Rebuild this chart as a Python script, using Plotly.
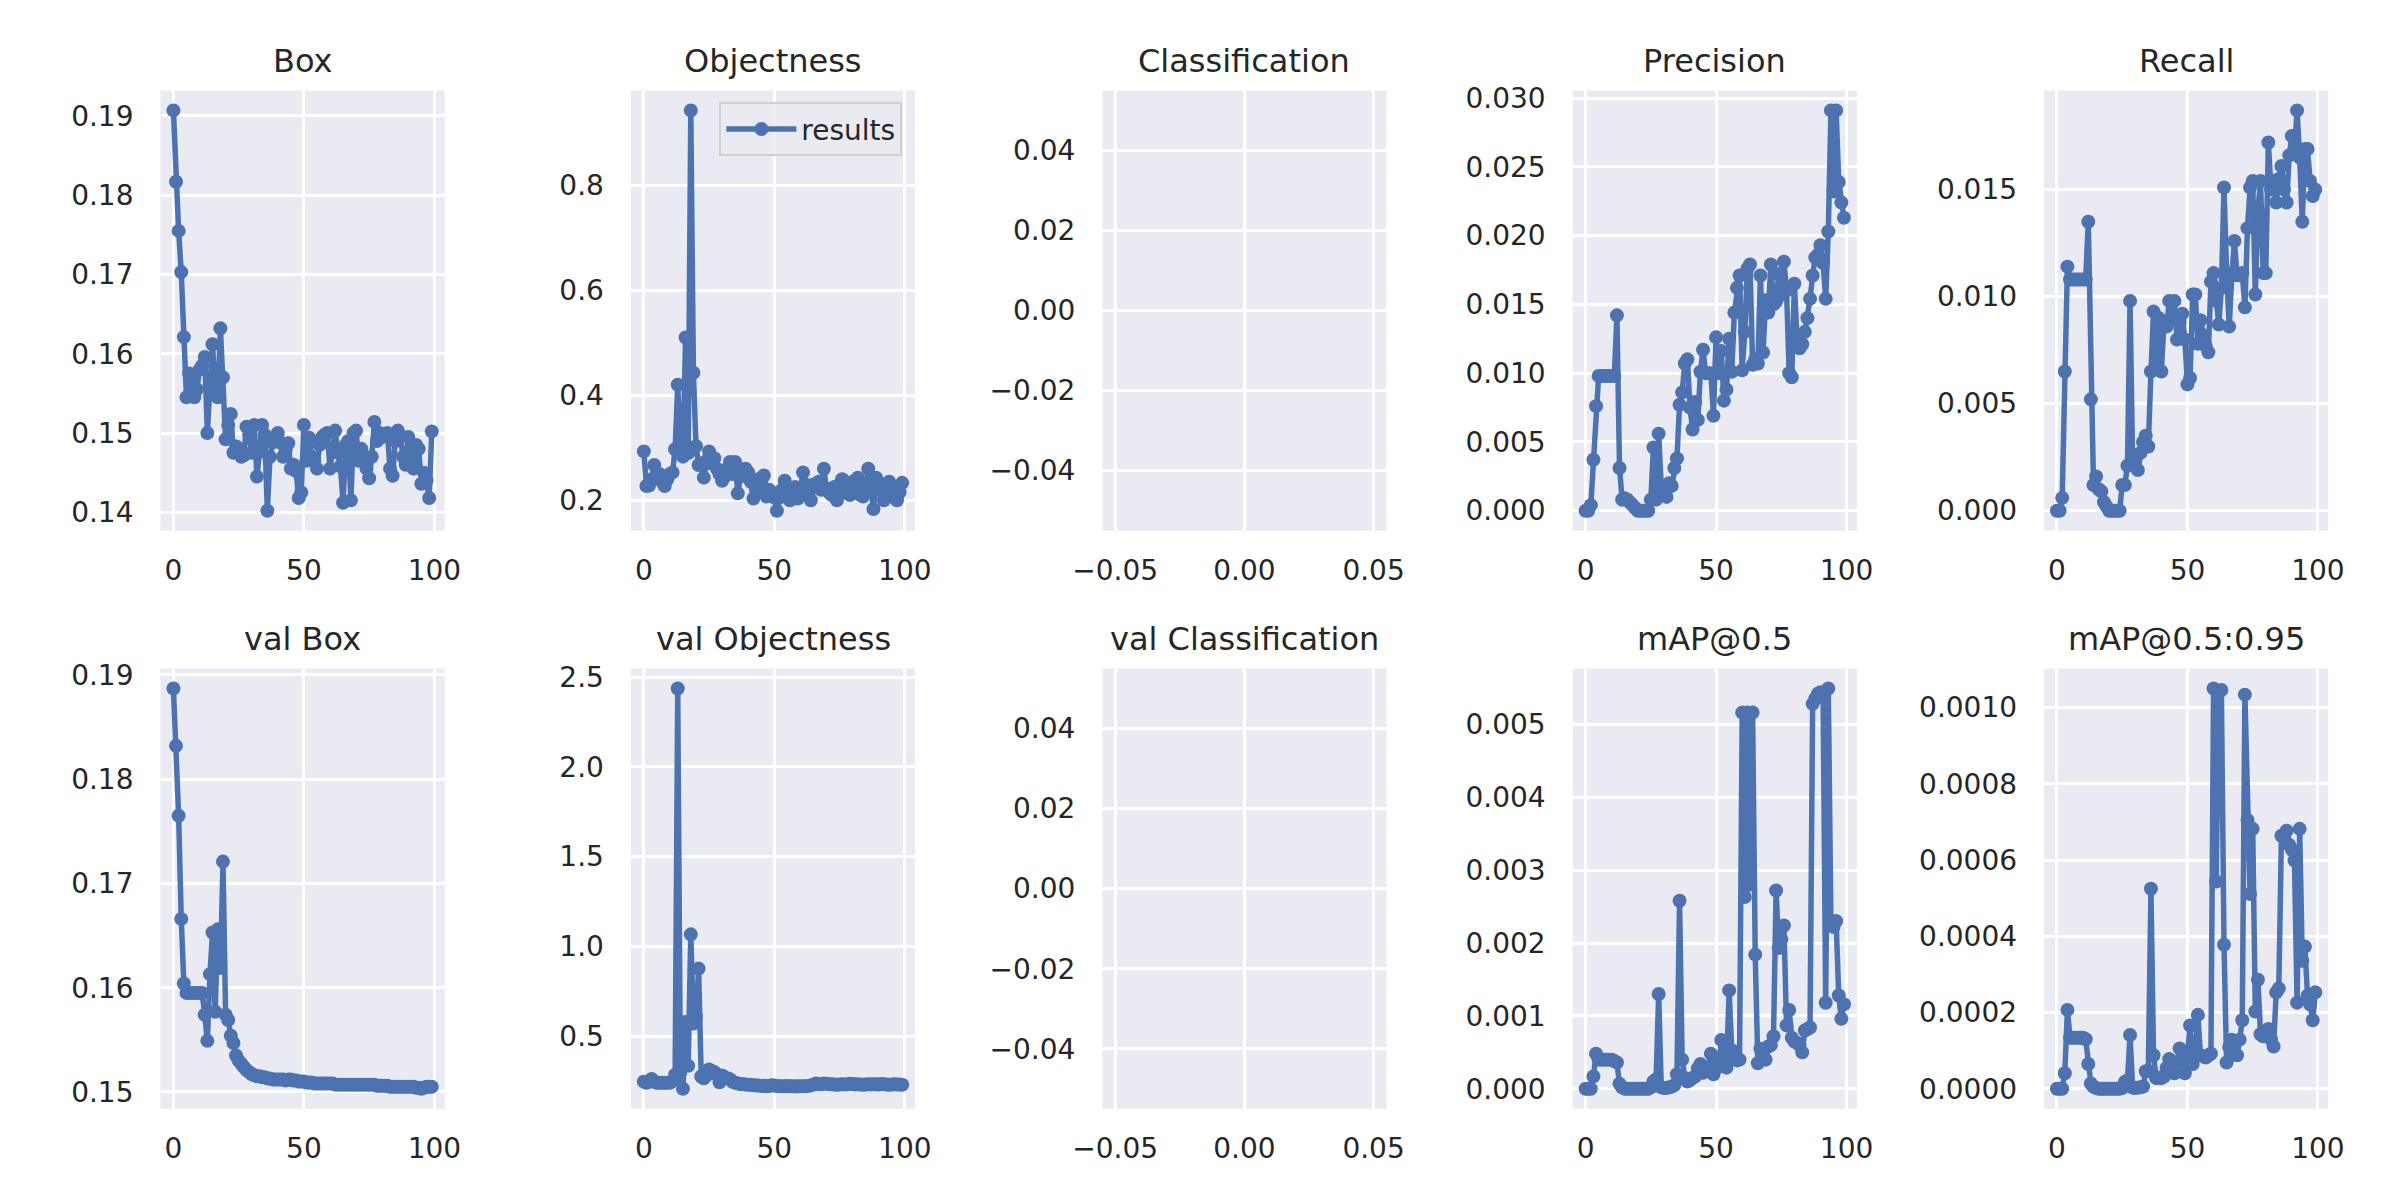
import plotly.graph_objects as go

# ---------------- data ----------------
epochs = list(range(100))

box = [0.1907, 0.1817, 0.1755, 0.1703, 0.1621, 0.1545, 0.1575, 0.1570, 0.1545, 0.1555,
       0.1580, 0.1585, 0.1596, 0.1500, 0.1560, 0.1612, 0.1550, 0.1545, 0.1632, 0.1570,
       0.1492, 0.1510, 0.1524, 0.1475, 0.1483, 0.1480, 0.1470, 0.1472, 0.1508, 0.1498,
       0.1475, 0.1510, 0.1445, 0.1476, 0.1510, 0.1498, 0.1402, 0.1470, 0.1488, 0.1490,
       0.1500, 0.1488, 0.1470, 0.1478, 0.1487, 0.1455, 0.1460, 0.1452, 0.1418, 0.1425,
       0.1510, 0.1465, 0.1494, 0.1470, 0.1465, 0.1455, 0.1485, 0.1495, 0.1498, 0.1500,
       0.1455, 0.1480, 0.1503, 0.1475, 0.1458, 0.1412, 0.1485, 0.1490, 0.1415, 0.1500,
       0.1503, 0.1465, 0.1480, 0.1470, 0.1455, 0.1443, 0.1470, 0.1514, 0.1490, 0.1500,
       0.1495, 0.1497, 0.1500, 0.1455, 0.1446, 0.1490, 0.1503, 0.1495, 0.1470, 0.1460,
       0.1495, 0.1465, 0.1455, 0.1485, 0.1480, 0.1436, 0.1450, 0.1440, 0.1418, 0.1502]

objectness = [0.293, 0.227, 0.228, 0.240, 0.267, 0.245, 0.250, 0.235, 0.227, 0.240,
              0.250, 0.253, 0.297, 0.420, 0.300, 0.283, 0.510, 0.290, 0.943, 0.443,
              0.303, 0.267, 0.270, 0.243, 0.275, 0.293, 0.270, 0.280, 0.260, 0.250,
              0.237, 0.245, 0.260, 0.273, 0.250, 0.273, 0.213, 0.245, 0.258, 0.260,
              0.253, 0.235, 0.203, 0.220, 0.240, 0.235, 0.247, 0.207, 0.220, 0.215,
              0.205, 0.180, 0.205, 0.220, 0.237, 0.215, 0.200, 0.220, 0.225, 0.203,
              0.220, 0.253, 0.230, 0.210, 0.200, 0.230, 0.225, 0.235, 0.220, 0.260,
              0.222, 0.215, 0.210, 0.225, 0.200, 0.230, 0.240, 0.215, 0.225, 0.210,
              0.235, 0.220, 0.243, 0.210, 0.207, 0.225, 0.260, 0.220, 0.183, 0.243,
              0.220, 0.230, 0.200, 0.215, 0.235, 0.220, 0.205, 0.200, 0.215, 0.233]

classification = []

precision = [0.0000, 0.0000, 0.0004, 0.0037, 0.0076, 0.0098, 0.0098, 0.0098, 0.0098, 0.0098,
             0.0098, 0.0098, 0.0142, 0.0031, 0.0008, 0.0009, 0.0008, 0.0006, 0.0004, 0.0002,
             0.0000, 0.0000, 0.0000, 0.0000, 0.0000, 0.0008, 0.0046, 0.0008, 0.0056, 0.0017,
             0.0015, 0.0010, 0.0020, 0.0018, 0.0031, 0.0038, 0.0077, 0.0086, 0.0107, 0.0110,
             0.0075, 0.0059, 0.0079, 0.0066, 0.0101, 0.0117, 0.0100, 0.0100, 0.0100, 0.0069,
             0.0126, 0.0100, 0.0116, 0.0080, 0.0088, 0.0125, 0.0101, 0.0144, 0.0162, 0.0171,
             0.0102, 0.0130, 0.0176, 0.0179, 0.0106, 0.0110, 0.0107, 0.0171, 0.0115, 0.0153,
             0.0144, 0.0179, 0.0150, 0.0152, 0.0172, 0.0157, 0.0181, 0.0160, 0.0100, 0.0097,
             0.0165, 0.0125, 0.0118, 0.0121, 0.0130, 0.0140, 0.0154, 0.0171, 0.0184, 0.0186,
             0.0193, 0.0180, 0.0154, 0.0203, 0.0291, 0.0232, 0.0291, 0.0239, 0.0224, 0.0213]

recall = [0.0000, 0.0000, 0.0006, 0.0065, 0.0114, 0.0108, 0.0108, 0.0108, 0.0108, 0.0108,
          0.0108, 0.0108, 0.0135, 0.0052, 0.0012, 0.0016, 0.0010, 0.0009, 0.0004, 0.0002,
          0.0000, 0.0000, 0.0000, 0.0000, 0.0000, 0.0012, 0.0012, 0.0021, 0.0098, 0.0022,
          0.0026, 0.0019, 0.0027, 0.0032, 0.0035, 0.0030, 0.0065, 0.0093, 0.0070, 0.0090,
          0.0065, 0.0088, 0.0086, 0.0098, 0.0090, 0.0098, 0.0080, 0.0088, 0.0092, 0.0080,
          0.0059, 0.0062, 0.0101, 0.0101, 0.0078, 0.0089, 0.0082, 0.0077, 0.0074, 0.0107,
          0.0111, 0.0098, 0.0087, 0.0104, 0.0151, 0.0111, 0.0086, 0.0110, 0.0126, 0.0110,
          0.0110, 0.0111, 0.0095, 0.0132, 0.0151, 0.0154, 0.0101, 0.0140, 0.0154, 0.0111,
          0.0111, 0.0172, 0.0150, 0.0154, 0.0144, 0.0155, 0.0161, 0.0150, 0.0144, 0.0166,
          0.0175, 0.0168, 0.0187, 0.0165, 0.0135, 0.0169, 0.0169, 0.0154, 0.0147, 0.0150]

val_box = [0.1887, 0.1832, 0.1765, 0.1666, 0.1604, 0.1595, 0.1595, 0.1595, 0.1595, 0.1595,
           0.1595, 0.1595, 0.1574, 0.1549, 0.1613, 0.1653, 0.1577, 0.1656, 0.1619, 0.1721,
           0.1574, 0.1569, 0.1554, 0.1547, 0.1535, 0.1530, 0.1527, 0.1524, 0.1521, 0.1519,
           0.1517, 0.1516, 0.1515, 0.1515, 0.1514, 0.1514, 0.1513, 0.1513, 0.1512, 0.1512,
           0.1512, 0.1512, 0.1512, 0.1511, 0.1512, 0.1512, 0.1511, 0.1511, 0.1510, 0.1510,
           0.1510, 0.1509, 0.1509, 0.1509, 0.1508, 0.1508, 0.1508, 0.1508, 0.1508, 0.1508,
           0.1508, 0.1508, 0.1507, 0.1507, 0.1507, 0.1507, 0.1507, 0.1507, 0.1507, 0.1507,
           0.1507, 0.1507, 0.1507, 0.1507, 0.1507, 0.1507, 0.1507, 0.1507, 0.1506, 0.1506,
           0.1506, 0.1506, 0.1506, 0.1505, 0.1505, 0.1505, 0.1505, 0.1505, 0.1505, 0.1505,
           0.1505, 0.1505, 0.1505, 0.1504, 0.1504, 0.1503, 0.1504, 0.1505, 0.1505, 0.1505]

val_objectness = [0.246, 0.240, 0.245, 0.261, 0.245, 0.240, 0.240, 0.240, 0.240, 0.240,
                  0.240, 0.250, 0.285, 2.437, 0.300, 0.206, 0.578, 0.334, 1.067, 0.570,
                  0.610, 0.876, 0.275, 0.265, 0.280, 0.314, 0.305, 0.300, 0.285, 0.242,
                  0.280, 0.270, 0.265, 0.260, 0.245, 0.240, 0.235, 0.232, 0.233, 0.230,
                  0.228, 0.228, 0.226, 0.225, 0.224, 0.222, 0.223, 0.221, 0.222, 0.226,
                  0.224, 0.222, 0.220, 0.221, 0.220, 0.222, 0.221, 0.220, 0.219, 0.220,
                  0.220, 0.221, 0.220, 0.222, 0.225, 0.230, 0.235, 0.233, 0.232, 0.236,
                  0.234, 0.232, 0.231, 0.230, 0.229, 0.230, 0.231, 0.230, 0.232, 0.234,
                  0.233, 0.230, 0.231, 0.230, 0.229, 0.230, 0.231, 0.230, 0.232, 0.231,
                  0.230, 0.233, 0.232, 0.230, 0.229, 0.230, 0.231, 0.230, 0.230, 0.229]

val_classification = []

map50 = [0.0, 0.0, 0.0, 0.00017, 0.00048, 0.00040, 0.00040, 0.00040, 0.00040, 0.00040,
         0.00040, 0.00038, 0.00036, 0.00007, 0.00002, 0.0, 0.0, 0.0, 0.0, 0.0,
         0.0, 0.0, 0.0, 0.0, 0.0, 0.00002, 0.00010, 0.00013, 0.00130, 0.00002,
         0.00001, 0.00001, 0.00002, 0.00003, 0.00005, 0.00020, 0.00258, 0.00040, 0.00015, 0.00010,
         0.00012, 0.00015, 0.00017, 0.00028, 0.00034, 0.00022, 0.00025, 0.00030, 0.00048, 0.00020,
         0.00035, 0.00030, 0.00067, 0.00040, 0.00029, 0.00135, 0.00053, 0.00045, 0.00039, 0.00040,
         0.00516, 0.00263, 0.00516, 0.00280, 0.00516, 0.00184, 0.00035, 0.00055, 0.00045, 0.00040,
         0.00058, 0.00060, 0.00072, 0.00272, 0.00193, 0.00205, 0.00224, 0.00087, 0.00108, 0.00070,
         0.00065, 0.00063, 0.00060, 0.00050, 0.00080, 0.00082, 0.00084, 0.00528, 0.00535, 0.00542,
         0.00544, 0.00540, 0.00118, 0.00549, 0.00230, 0.00222, 0.00230, 0.00128, 0.00096, 0.00116]

map5095 = [0.0, 0.0, 0.0, 0.000041, 0.000207, 0.000134, 0.000134, 0.000134, 0.000134, 0.000134,
           0.000134, 0.000130, 0.000065, 0.000014, 0.000005, 0.000002, 0.0, 0.0, 0.0, 0.0,
           0.0, 0.0, 0.0, 0.0, 0.0, 0.000002, 0.000018, 0.000022, 0.000141, 0.000003,
           0.000002, 0.000003, 0.000004, 0.000006, 0.000046, 0.000046, 0.000525, 0.000088, 0.000028, 0.000030,
           0.000028, 0.000032, 0.000055, 0.000078, 0.000060, 0.000041, 0.000070, 0.000106, 0.000080, 0.000041,
           0.000090, 0.000166, 0.000065, 0.000100, 0.000194, 0.000088, 0.000085, 0.000082, 0.000088, 0.000092,
           0.001050, 0.000544, 0.001040, 0.001046, 0.000378, 0.000069, 0.000110, 0.000129, 0.000120, 0.000088,
           0.000129, 0.000180, 0.001034, 0.000705, 0.000511, 0.000682, 0.000203, 0.000286, 0.000143, 0.000138,
           0.000145, 0.000157, 0.000130, 0.000111, 0.000253, 0.000263, 0.000664, 0.000660, 0.000677, 0.000640,
           0.000627, 0.000599, 0.000226, 0.000682, 0.000336, 0.000373, 0.000244, 0.000221, 0.000180, 0.000253]

titles = ["Box", "Objectness", "Classification", "Precision", "Recall",
          "val Box", "val Objectness", "val Classification", "mAP@0.5", "mAP@0.5:0.95"]
series = [box, objectness, classification, precision, recall,
          val_box, val_objectness, val_classification, map50, map5095]

x_ticks = [0, 50, 100]
empty_ticks = [-0.05, 0.0, 0.05]
empty_tick_text = ["\u22120.05", "0.00", "0.05"]
empty_yticks = [-0.04, -0.02, 0.0, 0.02, 0.04]
empty_ytick_text = ["\u22120.04", "\u22120.02", "0.00", "0.02", "0.04"]

# y-tick step and format per panel
y_dtick = [0.01, 0.2, None, 0.005, 0.005, 0.01, 0.5, None, 0.001, 0.0002]
y_fmt = [".2f", ".1f", None, ".3f", ".3f", ".2f", ".1f", None, ".3f", ".4f"]

# ---------------- style / layout ----------------
W, H = 2400, 1200
OFF = 8  # default page body margin of the html page
col_left = [133, 613, 1094, 1574, 2055]
panel_w = 290
row_top = [81, 664]
panel_h = 444
BLUE = "#4C72B0"
BG = "#EAEAF2"
TXT = "#262626"
FONT = "DejaVu Sans"

fig = go.Figure()
layout = dict(
    width=W, height=H,
    margin=dict(l=0, r=0, t=0, b=0),
    paper_bgcolor="white",
    plot_bgcolor=BG,
    font=dict(family=FONT, size=28, color=TXT),
    showlegend=True,
    legend=dict(
        x=(890 - OFF) / W, xanchor="right", y=1 - (93 - OFF) / H, yanchor="top",
        bgcolor="rgba(234,234,242,0.8)", bordercolor="#D0D0D0", borderwidth=2,
        font=dict(family=FONT, size=28, color=TXT),
        itemwidth=70, entrywidth=125, entrywidthmode="pixels",
    ),
    annotations=[],
)

def pad_range(vals):
    mn, mx = min(vals), max(vals)
    span = mx - mn
    return [mn - 0.05 * span, mx + 0.05 * span]

for k in range(10):
    r, c = divmod(k, 5)
    idx = k + 1
    xa = "x" if idx == 1 else f"x{idx}"
    ya = "y" if idx == 1 else f"y{idx}"
    left = col_left[c] - OFF
    top = row_top[r] - OFF
    x0 = left / W
    x1 = (left + panel_w) / W
    y1 = 1 - top / H
    y0 = 1 - (top + panel_h) / H
    vals = series[k]
    empty = len(vals) == 0

    fig.add_trace(go.Scatter(
        x=epochs[:len(vals)], y=vals, xaxis=xa, yaxis=ya,
        mode="lines+markers", name="results",
        line=dict(color=BLUE, width=5.5),
        marker=dict(color=BLUE, size=14),
        showlegend=(k == 1),
    ))

    common = dict(
        showgrid=True, gridcolor="white", gridwidth=3,
        zeroline=False, showline=False, ticks="",
        tickfont=dict(family=FONT, size=28, color=TXT),
    )
    if empty:
        xaxis = dict(domain=[x0, x1], anchor=ya, range=[-0.055, 0.055],
                     tickmode="array", tickvals=empty_ticks, ticktext=empty_tick_text,
                     ticklabelstandoff=20, **common)
        yaxis = dict(domain=[y0, y1], anchor=xa, range=[-0.055, 0.055],
                     tickmode="array", tickvals=empty_yticks, ticktext=empty_ytick_text,
                     ticklabelstandoff=26, **common)
    else:
        n = len(vals)
        xr = [0 - 0.05 * (n - 1), (n - 1) + 0.05 * (n - 1)]
        xaxis = dict(domain=[x0, x1], anchor=ya, range=xr,
                     tickmode="array", tickvals=x_ticks,
                     ticklabelstandoff=20, **common)
        yaxis = dict(domain=[y0, y1], anchor=xa, range=pad_range(vals),
                     tickmode="linear", tick0=0, dtick=y_dtick[k], tickformat=y_fmt[k],
                     ticklabelstandoff=26, **common)
    layout["xaxis" if idx == 1 else f"xaxis{idx}"] = xaxis
    layout["yaxis" if idx == 1 else f"yaxis{idx}"] = yaxis

    layout["annotations"].append(dict(
        text=titles[k], xref="paper", yref="paper",
        x=(left + panel_w / 2) / W, y=1 - (top - 30) / H,
        xanchor="center", yanchor="middle", showarrow=False,
        font=dict(family=FONT, size=32, color=TXT),
    ))

fig.update_layout(**layout)
fig.write_html("out.html")
